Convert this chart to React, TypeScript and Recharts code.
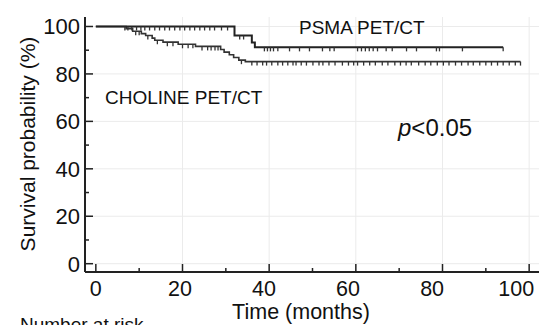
import React from "react";
import {
  ComposedChart,
  Line,
  Scatter,
  XAxis,
  YAxis,
  CartesianGrid,
} from "recharts";

// Kaplan-Meier steps (months, survival %)
const psmaTimes = [0, 32, 36, 36.7, 94];
const psmaSurv = [100, 96.2, 93.3, 91.2, 91.2];
const psmaCensored = [
  6.7, 7.4, 8.3, 9.4, 10.4, 11.3, 12.4, 13.6, 14.7, 15.9, 17, 18.2, 19.4, 20.5,
  21.7, 22.8, 24, 25.1, 26.3, 27.4, 29, 30.4, 33.2, 34.1, 38.9, 39.6, 40.3, 41,
  42, 44.7, 47, 49.3, 52.3, 54, 55, 60.4, 61.3, 62.2, 63.1, 64, 65, 67, 68.4,
  71.7, 74, 78.6, 79.3, 84.6, 94,
];

const cholineTimes = [
  0, 7, 8.5, 10.5, 11.5, 13, 13.6, 15.5, 19, 23, 28.8, 29.6, 30.8, 31.8, 33,
  34.5, 98,
];
const cholineSurv = [
  100, 99.1, 98, 97, 96.2, 95.1, 94.2, 93.4, 92.5, 91.6, 90.3, 89.2, 88.1, 86.9,
  85.8, 85.2, 85.2,
];
const cholineCensored = [
  9.2, 10, 12, 14.2, 16.5, 17.8, 20, 21.3, 22.4, 24.5, 25.8, 26.6, 27.5, 28.2,
  33.6, 36, 37.2, 38.5, 39.4, 40.6, 42, 43.1, 44.3, 45.5, 46.2, 47.4, 48.6, 50.1,
  51.5, 52.4, 53.8, 55.2, 56.9, 58.3, 59.5, 60.4, 61.8, 63.2, 64.5, 66.1, 67.4,
  69, 70.3, 71.6, 72.8, 74.5, 76, 77.3, 78.8, 80.2, 81.5, 83, 84.4, 85.9, 87.1,
  88.6, 90, 91.3, 92.7, 94, 95.4, 96.8, 98,
];

const xTicks = [0, 10, 20, 30, 40, 50, 60, 70, 80, 90, 100];
const yTicks = [0, 10, 20, 30, 40, 50, 60, 70, 80, 90, 100];
const gridValues = [20, 40, 60, 80, 100];
const gridValuesY = [0, 20, 40, 60, 80, 100];

const FONT = "'Liberation Sans', Arial, sans-serif";
const INK = "#222";

const toSteps = (times: number[], surv: number[]) =>
  times.map((t, i) => ({ t, s: surv[i] }));

const survAt = (times: number[], surv: number[], t: number) => {
  let s = surv[0];
  for (let i = 0; i < times.length; i++) if (times[i] <= t) s = surv[i];
  return s;
};

const toMarks = (times: number[], surv: number[], cens: number[]) =>
  cens.map((t) => ({ t, s: survAt(times, surv, t) }));

const psmaSteps = toSteps(psmaTimes, psmaSurv);
const cholineSteps = toSteps(cholineTimes, cholineSurv);
const psmaMarks = toMarks(psmaTimes, psmaSurv, psmaCensored);
const cholineMarks = toMarks(cholineTimes, cholineSurv, cholineCensored);

const XTick = (props: any) => {
  const { x, y, payload } = props;
  const major = payload.value % 20 === 0;
  // labels in the original sit a little tighter than the tick marks
  const lx = x - payload.value * 0.13;
  return (
    <g>
      <line x1={x} x2={x} y1={y} y2={y - (major ? 8 : 4)} stroke={INK} strokeWidth={1.5} />
      {major && (
        <text x={lx} y={y + 24} textAnchor="middle" fontSize={21.5} fontFamily={FONT} fill="#111">
          {payload.value}
        </text>
      )}
    </g>
  );
};

const YTick = (props: any) => {
  const { x, y, payload } = props;
  const major = payload.value % 20 === 0;
  return (
    <g>
      <line x1={x} x2={x + (major ? 8 : 4)} y1={y} y2={y} stroke={INK} strokeWidth={1.5} />
      {major && (
        <text x={x - 5} y={y + 8} textAnchor="end" fontSize={22} fontFamily={FONT} fill="#111">
          {payload.value}
        </text>
      )}
    </g>
  );
};

const CensorMark = (props: any) => {
  const { cx, cy } = props;
  return <line x1={cx} x2={cx} y1={cy} y2={cy + 4} stroke="#333" strokeWidth={1.3} />;
};

export default function App() {
  return (
    <div style={{ position: "relative", width: 539, height: 317, fontFamily: FONT, color: "#111" }}>
      <ComposedChart width={539} height={317} margin={{ top: 9, right: 7, left: 0, bottom: 0 }}>
        <CartesianGrid
          stroke="#ebebeb"
          verticalValues={gridValues}
          horizontalValues={gridValuesY}
        />
        <XAxis
          type="number"
          dataKey="t"
          domain={[-2.5, 102.5]}
          ticks={xTicks}
          allowDataOverflow
          height={53}
          tickSize={0}
          tickMargin={0}
          tickLine={false}
          tick={<XTick />}
          axisLine={{ stroke: INK, strokeWidth: 2 }}
          interval={0}
        />
        <YAxis
          type="number"
          dataKey="s"
          domain={[-3.5, 104]}
          ticks={yTicks}
          allowDataOverflow
          width={77}
          tickSize={0}
          tickMargin={0}
          tickLine={false}
          tick={<YTick />}
          axisLine={{ stroke: INK, strokeWidth: 2 }}
          interval={0}
        />
        <Line
          data={cholineSteps}
          dataKey="s"
          type="stepAfter"
          stroke="#333"
          strokeWidth={1.6}
          dot={false}
          isAnimationActive={false}
        />
        <Line
          data={psmaSteps}
          dataKey="s"
          type="stepAfter"
          stroke="#222"
          strokeWidth={2}
          dot={false}
          isAnimationActive={false}
        />
        <Scatter data={cholineMarks} dataKey="s" shape={<CensorMark />} isAnimationActive={false} />
        <Scatter data={psmaMarks} dataKey="s" shape={<CensorMark />} isAnimationActive={false} />
      </ComposedChart>

      <div
        style={{
          position: "absolute",
          left: 19,
          top: 136,
          transform: "translate(-50%, -50%) rotate(-90deg)",
          whiteSpace: "nowrap",
          fontSize: 21,
          lineHeight: 1,
        }}
      >
        Survival probability (%)
      </div>
      <div
        style={{
          position: "absolute",
          left: 293,
          top: 305,
          transform: "translate(-50%, -50%)",
          whiteSpace: "nowrap",
          fontSize: 21.5,
          lineHeight: 1,
        }}
      >
        Time (months)
      </div>
      <div style={{ position: "absolute", left: 291, top: 19, transform: "translateY(-50%)", whiteSpace: "nowrap", fontSize: 19, lineHeight: 1 }}>
        PSMA PET/CT
      </div>
      <div style={{ position: "absolute", left: 97, top: 89, transform: "translateY(-50%)", whiteSpace: "nowrap", fontSize: 19, lineHeight: 1 }}>
        CHOLINE PET/CT
      </div>
      <div style={{ position: "absolute", left: 390, top: 120, transform: "translateY(-50%)", whiteSpace: "nowrap", fontSize: 24, lineHeight: 1 }}>
        <i>p</i>&lt;0.05
      </div>
      <div style={{ position: "absolute", left: 12, top: 307, whiteSpace: "nowrap", fontSize: 19, lineHeight: 1 }}>
        Number at risk
      </div>
    </div>
  );
}
